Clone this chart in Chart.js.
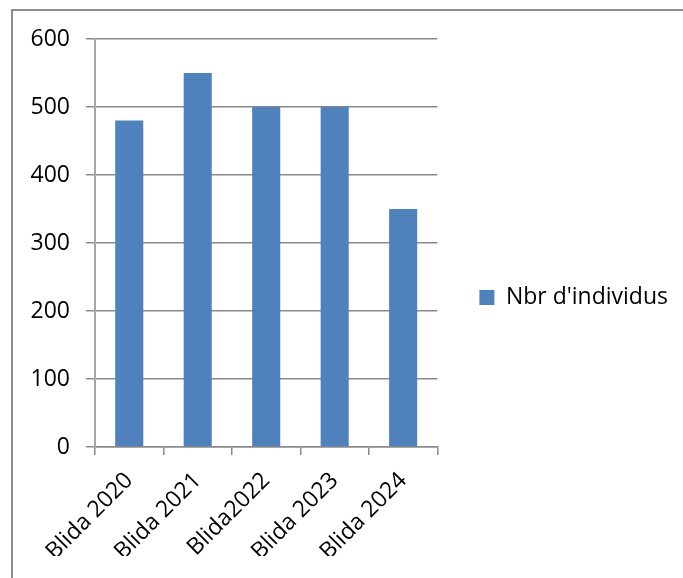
<!DOCTYPE html>
<html>
<head>
<meta charset="utf-8">
<title>Nbr d'individus</title>
<script src="https://cdn.jsdelivr.net/npm/chart.js@4/dist/chart.umd.min.js"></script>
<style>
  html, body { margin: 0; padding: 0; background: #ffffff; }
  #wrap { width: 683px; height: 578px; position: relative; overflow: hidden; }
</style>
</head>
<body>
<div id="wrap"><canvas id="chart" width="683" height="578"></canvas></div>
<script>
// Sites / years on the x axis
const categories = ['Blida 2020', 'Blida 2021', 'Blida2022', 'Blida 2023', 'Blida 2024'];
// Number of individuals per year
const individus = [480, 550, 500, 500, 350];
const seriesName = "Nbr d'individus";
// Value axis
const yMin = 0;
const yMax = 600;
const yStep = 100;

const FONT = "'Open Sans', 'Liberation Sans', sans-serif";
const GRID = '#8a8a8a';

// Thin grey frame around the chart object
const framePlugin = {
  id: 'frame',
  beforeDraw(chart) {
    const ctx = chart.ctx;
    ctx.save();
    ctx.fillStyle = '#ffffff';
    ctx.fillRect(0, 0, chart.width, chart.height);
    ctx.strokeStyle = '#8c8c8c';
    ctx.lineWidth = 2;
    ctx.beginPath();
    ctx.moveTo(12, chart.height);
    ctx.lineTo(12, 10);
    ctx.lineTo(chart.width, 10);
    ctx.stroke();
    ctx.restore();
  }
};

new Chart(document.getElementById('chart'), {
  type: 'bar',
  data: {
    labels: categories,
    datasets: [{
      label: seriesName,
      data: individus,
      backgroundColor: '#4f81bd',
      borderWidth: 0,
      barPercentage: 0.41,
      categoryPercentage: 1
    }]
  },
  options: {
    responsive: false,
    animation: false,
    devicePixelRatio: 1,
    layout: { padding: { left: 0, top: 39, right: 5, bottom: 22 } },
    plugins: {
      legend: {
        position: 'right',
        maxWidth: 300,
        labels: {
          boxWidth: 15,
          boxHeight: 15,
          padding: 42,
          color: '#000000',
          font: { family: FONT, size: 23 }
        }
      },
      tooltip: { enabled: false }
    },
    scales: {
      x: {
        offset: true,
        grid: {
          offset: true,
          drawOnChartArea: false,
          drawTicks: true,
          tickLength: 8,
          color: GRID,
          lineWidth: 1.5
        },
        border: { color: GRID, width: 1.5 },
        ticks: {
          minRotation: 45,
          maxRotation: 45,
          padding: 12,
          color: '#000000',
          font: { family: FONT, size: 23 }
        },
        afterFit(scale) { scale.height = 109; }
      },
      y: {
        min: yMin,
        max: yMax,
        ticks: {
          stepSize: yStep,
          padding: 16,
          color: '#000000',
          font: { family: FONT, size: 23 }
        },
        grid: {
          color: GRID,
          lineWidth: 1.5,
          tickLength: 9
        },
        border: { color: '#a6a6a6', width: 2 },
        afterFit(scale) { scale.width = 95; }
      }
    }
  },
  plugins: [framePlugin]
});
</script>
</body>
</html>
